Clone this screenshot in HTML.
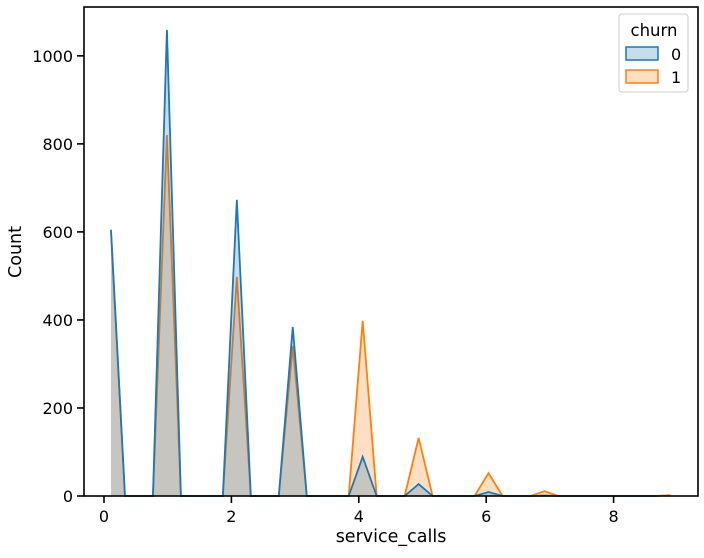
<!DOCTYPE html>
<html><head><meta charset="utf-8"><style>
body{margin:0;background:#fff;font-family:"Liberation Sans","DejaVu Sans",sans-serif}
svg text{font-family:"DejaVu Sans","Liberation Sans",sans-serif;fill:#000}
</style></head><body>
<svg id="chart" width="704" height="553" xmlns="http://www.w3.org/2000/svg">
<g id="plot"></g>
<g id="axes"></g>
</svg>
<script>
const binStart = 0, binWidth = 9/41, numBins = 41;
const bins0 = [0,4,9,13,18,22,27,31];
const counts0 = [605,1059,673,384,89,27,9,1];
const bins1 = [0,4,9,13,18,22,27,31,40];
const counts1 = [600,820,498,341,398,132,52,11,2];
const xTicks = [0,2,4,6,8];
const yTicks = [0,200,400,600,800,1000];
const L=84,R=698,T=7,B=496;
const xmin=-0.314,xmax=9.325,ymax=1111;
const sx=v=>L+(v-xmin)/(xmax-xmin)*(R-L);
const sy=v=>B-v/ymax*(B-T);
const NS="http://www.w3.org/2000/svg";
function mk(t,a,p){const e=document.createElementNS(NS,t);for(const k in a)e.setAttribute(k,a[k]);p.appendChild(e);return e;}
const plot=document.getElementById('plot'),axes=document.getElementById('axes');
function series(bins,counts,color,lastBin,name){
  const full=new Array(lastBin+1).fill(0);
  bins.forEach((b,i)=>full[b]=counts[i]);
  const pts=full.map((c,i)=>[sx(binStart+binWidth*(i+0.5)),sy(c)]);
  const first=pts[0][0],last=pts[pts.length-1][0];
  const d='M'+first+','+sy(0)+' '+pts.map(p=>'L'+p[0]+','+p[1]).join(' ')+' L'+last+','+sy(0)+'Z';
  const f=mk('path',{d:d,fill:color,'fill-opacity':0.25,stroke:'none'},plot);
  
  
  const l=mk('path',{d:'M'+pts.map(p=>p[0]+','+p[1]).join(' L'),fill:'none',stroke:color,'stroke-width':1.8},plot);
  
  
}
series(bins1,counts1,'#ff7f0e',numBins-1,'churn-1');
series(bins0,counts0,'#1f77b4',numBins-2,'churn-0');
const fr=mk('rect',{x:L,y:T,width:R-L,height:B-T,fill:'none',stroke:'#000','stroke-width':1.6},axes);


xTicks.forEach(v=>{
  const x=sx(v);
  const t=mk('line',{x1:x,x2:x,y1:B,y2:B+7,stroke:'#000','stroke-width':1.6},axes);
  
  
  const tx=mk('text',{x:x,y:B+26,'text-anchor':'middle','font-size':16},axes);
  tx.textContent=v;
  
  
});
yTicks.forEach(v=>{
  const y=sy(v);
  const t=mk('line',{x1:L-7,x2:L,y1:y,y2:y,stroke:'#000','stroke-width':1.6},axes);
  
  
  const tx=mk('text',{x:L-11,y:y+6,'text-anchor':'end','font-size':16},axes);
  tx.textContent=v;
  
  
});
</script>
<svg style="position:absolute;left:0;top:0" width="704" height="553" xmlns="http://www.w3.org/2000/svg">
<text x="391" y="542" text-anchor="middle" font-size="17.5">service_calls</text>
<text transform="translate(21,252) rotate(-90)" text-anchor="middle" font-size="17.5">Count</text>
<g>
<rect x="619" y="14" width="69" height="78" rx="3" fill="#fff" fill-opacity="0.8" stroke="#ccc"/>
<text x="654" y="36" text-anchor="middle" font-size="16.5">churn</text>
<g>
<rect x="626" y="47" width="32" height="13" fill="#1f77b4" fill-opacity="0.25" stroke="#1f77b4" stroke-width="1.5"/>
<text x="671" y="60" font-size="16">0</text></g>
<g>
<rect x="626" y="70" width="32" height="13" fill="#ff7f0e" fill-opacity="0.25" stroke="#ff7f0e" stroke-width="1.5"/>
<text x="671" y="83" font-size="16">1</text></g>
</g>
</svg>
</body></html>
